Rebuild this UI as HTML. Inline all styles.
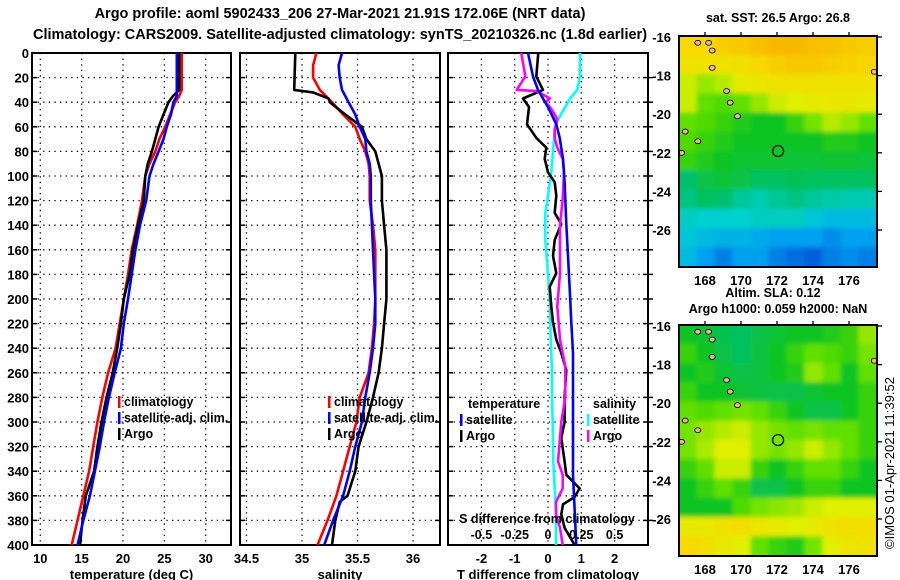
<!DOCTYPE html>
<html><head><meta charset="utf-8"><style>
body{margin:0;background:#fff;}
svg{display:block;font-family:"Liberation Sans",Arial,sans-serif;font-weight:bold;}
</style></head><body>
<svg id="fig" width="900" height="580" viewBox="0 0 900 580" xmlns="http://www.w3.org/2000/svg">
<defs>
<filter id="soft" x="0" y="0" width="1" height="1"><feGaussianBlur stdDeviation="2.5"/></filter>
<clipPath id="clipTop"><rect x="679" y="36" width="198" height="231"/></clipPath>
<clipPath id="clipBot"><rect x="679" y="325" width="198" height="231"/></clipPath>
</defs>
<text x="340" y="18" font-size="14.5" text-anchor="middle">Argo profile: aoml 5902433_206 27-Mar-2021 21.91S 172.06E (NRT data)</text>
<text x="340" y="39" font-size="14.5" text-anchor="middle">Climatology: CARS2009. Satellite-adjusted climatology: synTS_20210326.nc (1.8d earlier)</text>
<g id="g1"></g>
<g id="g2"></g>
<g id="g3"></g>
<g id="m1"></g>
<g id="m2"></g>
<text transform="translate(894,549) rotate(-90)" font-size="13" font-weight="normal">©IMOS 01-Apr-2021 11:39:52</text>
</svg>
<script>
// ---- data ----
const depthTicks = [0,20,40,60,80,100,120,140,160,180,200,220,240,260,280,300,320,340,360,380,400];
const tTicks = [10,15,20,25,30];
const sTicks = [34.5,35,35.5,36];
const dTicks = [-2,-1,0,1,2];
const sdTickLabels = ["-0.5","-0.25","0","0.25","0.5"];
const tDepth = [0,30,35,40,50,60,70,80,90,100,120,140,160,180,200,220,240,260,280,300,320,340,360,380,400];
const tClim = [27.1,27.1,26.8,26.3,25.7,25.1,24.4,23.9,23.2,22.7,22.3,21.7,21.05,20.6,20.1,19.6,19.1,18.2,17.5,16.9,16.4,15.9,15.2,14.5,13.8];
const tSat = [26.5,26.5,26.5,26.1,25.8,25.3,24.9,24.3,23.7,23.2,22.8,22.05,21.5,21.05,20.6,20.1,19.75,19.0,18.3,17.7,17.2,16.6,16.0,15.2,14.5];
const tArgo = [26.8,26.8,26.05,25.5,24.9,24.3,23.9,23.5,23.0,22.7,22.5,21.8,21.2,20.8,20.1,19.75,19.3,18.75,18.0,17.4,16.9,16.5,15.5,15.1,14.8];
const sDepth = [0,10,20,30,40,50,60,70,80,90,100,120,140,160,180,200,220,240,260,280,300,320,340,360,380,400];
const sClim = [35.13,35.10,35.10,35.16,35.27,35.37,35.48,35.52,35.57,35.60,35.61,35.61,35.64,35.66,35.66,35.66,35.65,35.63,35.60,35.52,35.49,35.43,35.37,35.31,35.23,35.14];
const sSat = [35.36,35.33,35.34,35.36,35.42,35.48,35.52,35.57,35.58,35.61,35.62,35.62,35.63,35.64,35.65,35.66,35.66,35.64,35.61,35.57,35.54,35.48,35.43,35.37,35.28,35.20];
const sArgoDepth = [0,30,32,37,40,50,60,70,80,90,100,120,140,160,180,200,220,240,260,280,300,320,340,360,365,380,400];
const sArgo = [34.94,34.93,35.10,35.24,35.25,35.39,35.54,35.58,35.66,35.69,35.72,35.72,35.74,35.76,35.76,35.76,35.74,35.72,35.69,35.64,35.58,35.51,35.48,35.41,35.34,35.30,35.27];
const tdArgoDepth = [0,19,30,37,44,58,69,77,86,97,105,116,130,139,152,165,179,190,206,219,233,244,258,280,300,313,332,343,354,361,367,375,386,400];
const tdArgo = [-0.29,-0.35,-0.15,-0.75,-0.57,-0.63,-0.35,-0.05,-0.1,0,0.2,0.25,0.2,0.4,0.2,0.15,0.25,0.05,0.1,0.15,0.25,0.4,0.55,0.5,0.5,0.4,0.5,0.55,0.95,0.8,0.45,0.4,0.5,0.8];
const tdSatDepth = [0,19,30,44,58,69,86,105,139,165,190,219,244,280,343,400];
const tdSat = [-0.6,-0.45,-0.3,0,0.25,0.35,0.45,0.5,0.55,0.6,0.65,0.7,0.75,0.75,0.75,0.85];
const sdArgoDepth = [0,19,30,31,37,40,44,50,54,62,69,77,86,97,119,140,179,206,233,255,280,300,313,332,343,354,365,375,386,400];
const sdArgo = [-0.2,-0.17,-0.235,-0.085,0.015,-0.02,0.015,0.05,0.07,0.05,0.05,0.07,0.11,0.12,0.11,0.09,0.09,0.07,0.09,0.13,0.13,0.1,0.09,0.075,0.11,0.11,0.06,0.06,0.09,0.11];
const sdSatDepth = [0,19,30,37,44,54,62,77,97,116,130,152,179,206,233,258,280,300,332,354,375,400];
const sdSat = [0.24,0.24,0.22,0.165,0.13,0.075,0.05,0.04,0.025,0,-0.02,-0.02,0,0.015,0.02,0.03,0.03,0.035,0.04,0.05,0.06,0.06];
const latTicks = [-16,-18,-20,-22,-24,-26];
const lonTicks = [168,170,172,174,176];
const islandLon = [167.6,168.2,168.4,168.4,169.2,169.4,169.8,166.9,167.6,166.7,177.4];
const islandLat = [-16.3,-16.3,-16.7,-17.6,-18.8,-19.4,-20.1,-20.9,-21.4,-22.0,-17.8];
const sstGrid = [
[0.85,0.85,0.88,0.9,0.93,0.95,0.95,0.93,0.92,0.9,0.88],
[0.8,0.8,0.8,0.82,0.85,0.88,0.9,0.9,0.88,0.87,0.86],
[0.7,0.65,0.68,0.75,0.78,0.8,0.8,0.8,0.8,0.8,0.8],
[0.7,0.6,0.58,0.6,0.65,0.7,0.72,0.75,0.77,0.77,0.75],
[0.6,0.58,0.55,0.52,0.5,0.5,0.55,0.62,0.68,0.65,0.6],
[0.58,0.55,0.52,0.5,0.5,0.5,0.5,0.5,0.52,0.52,0.5],
[0.55,0.52,0.5,0.48,0.48,0.48,0.47,0.47,0.48,0.48,0.47],
[0.4,0.45,0.47,0.45,0.42,0.42,0.43,0.42,0.42,0.42,0.42],
[0.38,0.42,0.4,0.35,0.32,0.35,0.38,0.35,0.33,0.32,0.32],
[0.3,0.28,0.28,0.28,0.3,0.3,0.3,0.25,0.22,0.22,0.22],
[0.25,0.22,0.2,0.2,0.18,0.15,0.15,0.15,0.12,0.15,0.15],
[0.22,0.15,0.1,0.15,0.15,0.1,0.07,0.05,0.1,0.12,0.1]];
const slaGrid = [
[0.5,0.48,0.44,0.42,0.45,0.48,0.5,0.5,0.52,0.55,0.65],
[0.55,0.5,0.45,0.42,0.46,0.5,0.55,0.6,0.58,0.55,0.62],
[0.5,0.52,0.48,0.45,0.46,0.5,0.52,0.65,0.6,0.5,0.6],
[0.55,0.5,0.5,0.48,0.46,0.45,0.45,0.48,0.5,0.5,0.55],
[0.6,0.58,0.6,0.62,0.6,0.55,0.5,0.45,0.45,0.5,0.55],
[0.62,0.65,0.68,0.7,0.65,0.62,0.6,0.62,0.6,0.6,0.55],
[0.62,0.67,0.72,0.72,0.65,0.62,0.65,0.7,0.65,0.6,0.55],
[0.55,0.6,0.7,0.7,0.55,0.5,0.55,0.6,0.6,0.55,0.5],
[0.5,0.55,0.6,0.55,0.45,0.45,0.5,0.55,0.55,0.5,0.5],
[0.5,0.5,0.5,0.58,0.62,0.64,0.66,0.7,0.72,0.72,0.72],
[0.75,0.76,0.8,0.82,0.78,0.75,0.72,0.75,0.8,0.82,0.82],
[0.85,0.82,0.76,0.72,0.6,0.55,0.52,0.62,0.72,0.78,0.8]];

const NS="http://www.w3.org/2000/svg";
function el(parent,tag,attrs,text){const e=document.createElementNS(NS,tag);for(const k in attrs)e.setAttribute(k,attrs[k]);if(text!==undefined)e.textContent=text;parent.appendChild(e);return e;}
const Y0=53,Y1=545;
const yD = d => Y0 + d*(Y1-Y0)/400;

function panel(g,x0,x1,xs,ticks,labels,title,leftLabels){
  el(g,'rect',{x:x0,y:Y0,width:x1-x0,height:Y1-Y0,fill:'#fff',stroke:'#000','stroke-width':2});
  depthTicks.forEach((d,i)=>{
    if(d>0&&d<400){const l=el(g,'line',{x1:x0,x2:x1,y1:yD(d),y2:yD(d),stroke:'#000','stroke-width':1.3,'stroke-dasharray':'1.3,4.3'});
    
    el(g,'line',{x1:x0,x2:x0+5,y1:yD(d),y2:yD(d),stroke:'#000','stroke-width':1.5});
    el(g,'line',{x1:x1-5,x2:x1,y1:yD(d),y2:yD(d),stroke:'#000','stroke-width':1.5});}
    if(leftLabels){const t=el(g,'text',{x:29,y:yD(d)+5,'font-size':13,'text-anchor':'end'},String(d));
    }
  });
  ticks.forEach((v,i)=>{
    const x=xs(v);
    const l=el(g,'line',{x1:x,x2:x,y1:Y0,y2:Y1,stroke:'#000','stroke-width':1.3,'stroke-dasharray':'1.3,4.3'});
    
    const t=el(g,'text',{x:x,y:563,'font-size':13,'text-anchor':'middle'},labels[i]);
    
  });
  const tt=el(g,'text',{x:(x0+x1)/2,y:579,'font-size':13,'text-anchor':'middle'},title);
  
}
function line(g,xs,depths,vals,color,name){
  const d=vals.map((v,i)=>(i?'L':'M')+xs(v).toFixed(1)+','+yD(depths[i]).toFixed(1)).join('');
  const p=el(g,'path',{d:d,fill:'none',stroke:color,'stroke-width':2.6,'stroke-linejoin':'round'});
  
  
}
function legend(g,x,y,color,label){
  el(g,'rect',{x:x,y:y-10,width:2.5,height:12,fill:color});
  const t=el(g,'text',{x:x+6,y:y,'font-size':12.5,textLength:undefined},label);
  t.removeAttribute('textLength');
  
  
}
// panel 1
const g1=document.getElementById('g1');
const xT=v=>40.3+(v-10)*8.27;
panel(g1,32,231,xT,tTicks,tTicks.map(String),'temperature (deg C)',true);
line(g1,xT,tDepth,tClim,'#f00','temp-climatology-line');
line(g1,xT,tDepth,tArgo,'#000','temp-argo-line');
line(g1,xT,tDepth,tSat,'#00f','temp-satellite-line');
legend(g1,118,406,'#f00','climatology');legend(g1,118,422,'#00f','satellite-adj. clim.');legend(g1,118,438,'#000','Argo');
// panel 2
const g2=document.getElementById('g2');
const xS=v=>302+(v-35)*111;
panel(g2,240,440,xS,sTicks,sTicks.map(String),'salinity',false);
line(g2,xS,sDepth,sClim,'#f00','sal-climatology-line');
line(g2,xS,sArgoDepth,sArgo,'#000','sal-argo-line');
line(g2,xS,sDepth,sSat,'#00f','sal-satellite-line');
legend(g2,328,406,'#f00','climatology');legend(g2,328,422,'#00f','satellite-adj. clim.');legend(g2,328,438,'#000','Argo');
// panel 3
const g3=document.getElementById('g3');
const xD=v=>548+v*33.3;
const xSD=v=>548+v*133.3;
panel(g3,448,648,xD,dTicks,dTicks.map(String),'T difference from climatology',false);
depthTicks.forEach(d=>{if(d>0&&d<400)el(g3,'line',{x1:648,x2:653,y1:yD(d),y2:yD(d),stroke:'#000','stroke-width':1.5});});
line(g3,xSD,sdSatDepth,sdSat,'#0ff','sdiff-satellite-line');
line(g3,xD,tdArgoDepth,tdArgo,'#000','tdiff-argo-line');
line(g3,xSD,sdArgoDepth,sdArgo,'#f0f','sdiff-argo-line');
line(g3,xD,tdSatDepth,tdSat,'#00f','tdiff-satellite-line');
el(g3,'text',{x:468,y:408,'font-size':12.5},'temperature');
el(g3,'text',{x:593,y:408,'font-size':12.5},'salinity');
legend(g3,460,424,'#00f','satellite');legend(g3,460,440,'#000','Argo');
legend(g3,587,424,'#0ff','satellite');legend(g3,587,440,'#f0f','Argo');
const sdt=el(g3,'text',{x:547,y:523,'font-size':12.5,'text-anchor':'middle'},'S difference from climatology');

sdTickLabels.forEach((lab,i)=>{const t=el(g3,'text',{x:xD(dTicks[i]),y:539,'font-size':12.5,'text-anchor':'middle'},lab);
});

// maps
const stops=[[0,[0,64,208]],[0.15,[0,160,240]],[0.28,[0,208,208]],[0.4,[0,192,112]],[0.5,[16,196,32]],[0.6,[96,224,0]],[0.72,[224,240,0]],[0.85,[248,216,0]],[1,[248,168,0]]];
function cmap(v){for(let i=1;i<stops.length;i++){if(v<=stops[i][0]){const a=stops[i-1],b=stops[i],t=(v-a[0])/(b[0]-a[0]);return 'rgb('+a[1].map((c,k)=>Math.round(c+(b[1][k]-c)*t)).join(',')+')';}}return 'rgb(248,168,0)';}
function map(gid,top,grid,clip,title,title2){
  const g=document.getElementById(gid);
  const L=679,R=877,H=231,lat0=-16,degPx=19.3;
  const xL=lon=>777+(lon-172)*18;
  const yL=lat=>top+1+(lat0-lat)*degPx;
  const cg=el(g,'g',{'clip-path':'url(#'+clip+')'});
  const inner=el(cg,'g',{filter:'url(#soft)'});
  const rows=grid.length,cols=grid[0].length,cw=(R-L)/cols,ch=H/rows;
  grid.forEach((row,r)=>row.forEach((v,c)=>{
    const cell=el(inner,'rect',{x:L+c*cw-6*(c==0)-0.5,y:top+r*ch-6*(r==0)-0.5,width:cw+1+6*(c==0||c==cols-1),height:ch+1+6*(r==0||r==rows-1),fill:cmap(v)});
    
    
  }));
  islandLon.forEach((lon,i)=>{
    const isl=el(cg,'ellipse',{cx:xL(lon),cy:yL(islandLat[i]),rx:3,ry:2.5,fill:'#f0b0a0',stroke:'#000','stroke-width':0.8});
    
    
  });
  el(g,'rect',{x:L,y:top,width:R-L,height:H,fill:'none',stroke:'#000','stroke-width':2});
  const ring=el(g,'circle',{cx:xL(172.06),cy:yL(-21.91),r:5.5,fill:'none',stroke:'#000','stroke-width':1.2});
  
  latTicks.forEach(lat=>{
    const y=yL(lat);
    const t=el(g,'text',{x:671,y:y+5,'font-size':13,'text-anchor':'end'},String(lat));
    
    el(g,'line',{x1:R,x2:R+5,y1:y,y2:y,stroke:'#000','stroke-width':1.3});
  });
  lonTicks.forEach(lon=>{
    el(g,'line',{x1:xL(lon),x2:xL(lon),y1:top-4,y2:top,stroke:'#000','stroke-width':1.3});
    const t=el(g,'text',{x:xL(lon),y:top+H+18,'font-size':13,'text-anchor':'middle'},String(lon));
    
  });
  el(g,'text',{x:778,y:title[1],'font-size':12.5,'text-anchor':'middle'},title[0]);
  if(title2)el(g,'text',{x:773,y:title2[1],'font-size':12.5,'text-anchor':'middle'},title2[0]);
}
map('m1',36,sstGrid,'clipTop',['sat. SST: 26.5 Argo: 26.8',22]);
map('m2',325,slaGrid,'clipBot',['Argo h1000: 0.059 h2000: NaN',313],['Altim. SLA: 0.12',297]);
</script>
</body></html>
